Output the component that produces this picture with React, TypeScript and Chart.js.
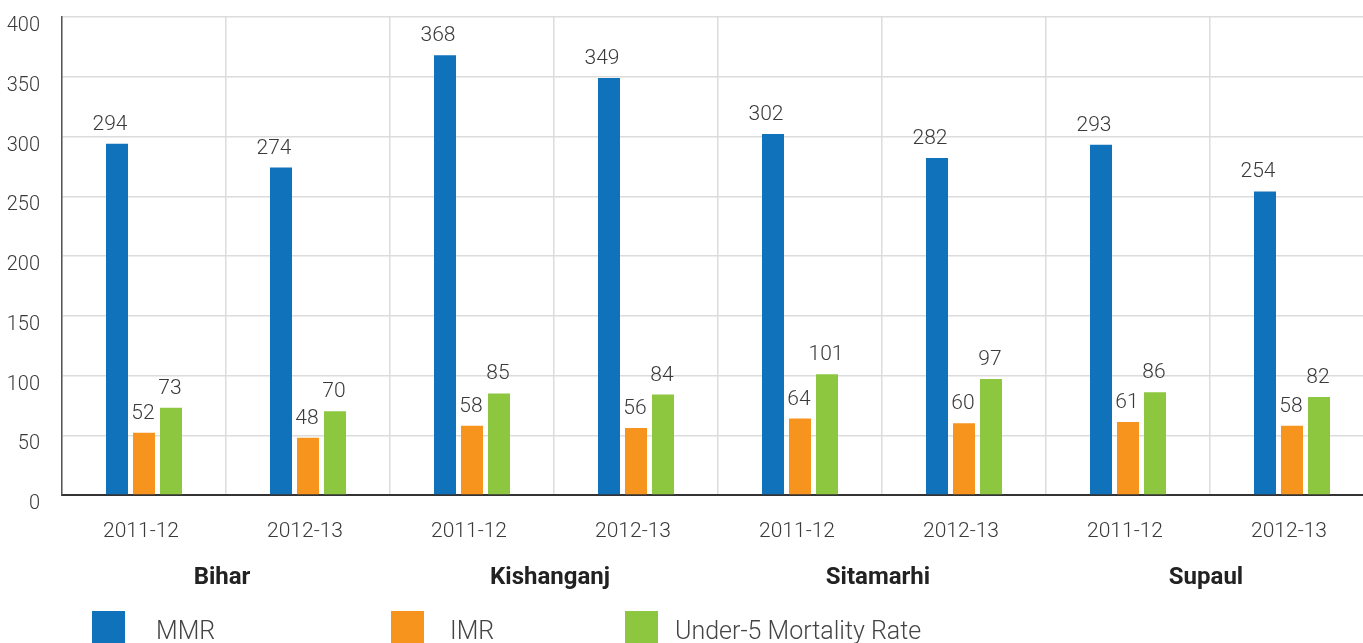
import React, { useEffect, useRef } from "react";
import { Chart, registerables } from "chart.js";

Chart.register(...registerables);

const categories = ["2011-12", "2012-13", "2011-12", "2012-13", "2011-12", "2012-13", "2011-12", "2012-13"];
const districts = ["Bihar", "Kishanganj", "Sitamarhi", "Supaul"];
const mmr = [294, 274, 368, 349, 302, 282, 293, 254];
const imr = [52, 48, 58, 56, 64, 60, 61, 58];
const u5mr = [73, 70, 85, 84, 101, 97, 86, 82];
const seriesNames = ["MMR", "IMR", "Under-5 Mortality Rate"];
const seriesColors = ["#1072ba", "#f7941e", "#8dc63f"];
const yMin = 0;
const yMax = 400;
const yStep = 50;

const FONT = "Roboto, 'Noto Sans', sans-serif";

const labelsPlugin = {
  id: "customLabels",
  afterDatasetsDraw(chart: any) {
    const ctx = chart.ctx;
    ctx.save();
    ctx.font = `300 21px ${FONT}`;
    ctx.fillStyle = "#3a3a3a";
    ctx.textAlign = "center";
    ctx.textBaseline = "alphabetic";
    const offsets = [-7, -1, -1];
    chart.data.datasets.forEach((ds: any, di: number) => {
      const meta = chart.getDatasetMeta(di);
      meta.data.forEach((bar: any, i: number) => {
        ctx.fillText(String(ds.data[i]), bar.x + offsets[di], bar.y - 14);
      });
    });
    ctx.restore();
  },
  afterDraw(chart: any) {
    const ctx = chart.ctx;
    const x = chart.scales.x;
    ctx.save();
    ctx.font = `bold 24px ${FONT}`;
    ctx.fillStyle = "#222";
    ctx.textAlign = "center";
    ctx.textBaseline = "alphabetic";
    districts.forEach((d, gi) => {
      const a = x.getPixelForValue(gi * 2);
      const b = x.getPixelForValue(gi * 2 + 1);
      ctx.fillText(d, (a + b) / 2 - 4, 584);
    });
    const boxX = [92, 391, 625];
    const textX = [156, 450, 675];
    ctx.font = `300 25px ${FONT}`;
    ctx.textAlign = "left";
    seriesNames.forEach((n, i) => {
      ctx.fillStyle = seriesColors[i];
      ctx.fillRect(boxX[i], 611, 33, 33);
      ctx.fillStyle = "#444";
      ctx.fillText(n, textX[i], 639);
    });
    ctx.restore();
  },
};

export default function App() {
  const ref = useRef<HTMLCanvasElement>(null);
  useEffect(() => {
    const canvas = ref.current!;
    const chart = new Chart(canvas, {
      type: "bar",
      data: {
        labels: categories,
        datasets: [
          { label: seriesNames[0], data: mmr, backgroundColor: seriesColors[0] },
          { label: seriesNames[1], data: imr, backgroundColor: seriesColors[1] },
          { label: seriesNames[2], data: u5mr, backgroundColor: seriesColors[2] },
        ],
      },
      options: {
        animation: false,
        responsive: false,
        maintainAspectRatio: false,
        datasets: {
          bar: { categoryPercentage: 0.494, barPercentage: 0.815 },
        },
        layout: { padding: { top: 17, right: 26, left: 0, bottom: 0 } },
        plugins: {
          legend: { display: false },
          tooltip: { enabled: false },
        },
        scales: {
          x: {
            grid: { color: "#dcdcdc", lineWidth: 1.5, drawTicks: false, offset: true },
            border: { color: "#333", width: 2 },
            ticks: {
              font: { family: FONT, size: 21, weight: "300" },
              color: "#3a3a3a",
              padding: 24,
              labelOffset: -3,
              maxRotation: 0,
              autoSkip: false,
            },
            afterFit(scale: any) {
              scale.height = 148;
              scale.paddingLeft = 0;
              scale.paddingRight = 0;
            },
          },
          y: {
            min: yMin,
            max: yMax,
            grid: { color: "#dcdcdc", lineWidth: 1.5, drawTicks: false },
            border: { color: "#555", width: 1.5 },
            ticks: {
              stepSize: yStep,
              font: { family: FONT, size: 20, weight: "300" },
              color: "#3a3a3a",
              padding: 22,
              labelOffset: 9,
            },
            afterFit(scale: any) {
              scale.width = 62;
              scale.paddingTop = 0;
              scale.paddingBottom = 0;
            },
          },
        },
      },
      plugins: [labelsPlugin],
    });
    return () => chart.destroy();
  }, []);
  return (
    <div
      style={{
        position: "fixed",
        left: 0,
        top: 0,
        width: 1363,
        height: 643,
        overflow: "hidden",
        background: "#fff",
      }}
    >
      <canvas ref={ref} width={1400} height={643} style={{ display: "block", width: 1400, height: 643 }} />
    </div>
  );
}
